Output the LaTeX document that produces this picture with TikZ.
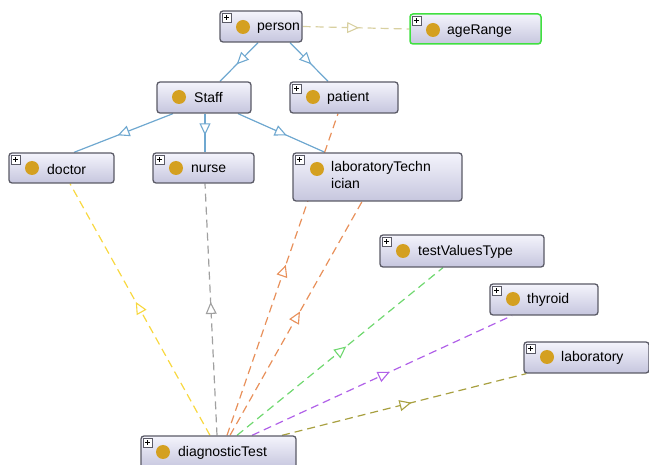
\documentclass[tikz,border=0pt]{standalone}
\usepackage{fontspec}
\setmainfont{Liberation Sans}
\usetikzlibrary{arrows.meta,decorations.markings,calc}
\pgfdeclarelayer{bg}
\pgfsetlayers{bg,main}
\definecolor{boxtop}{HTML}{F4F4FC}
\definecolor{boxbot}{HTML}{C6C6DE}
\definecolor{boxline}{HTML}{5A5A66}
\definecolor{dotc}{HTML}{D4A020}
\definecolor{isa}{HTML}{6FA8D0}
\definecolor{ctan}{HTML}{D8D0A0}
\definecolor{cyel}{HTML}{F8D840}
\definecolor{cgray}{HTML}{A0A0A0}
\definecolor{corg}{HTML}{E8905A}
\definecolor{cgrn}{HTML}{70D870}
\definecolor{cpur}{HTML}{B060E8}
\definecolor{coliv}{HTML}{A8A040}
\definecolor{gborder}{HTML}{40E040}
\newcommand\plusicon[1]{%
  \draw[boxline, fill=white, line width=0.6pt] ($(#1.north west)+(3,3)$) rectangle ++(9,9);
  \draw[black, line width=0.9pt] ($(#1.north west)+(5,7.5)$) -- ++(5,0);
  \draw[black, line width=0.9pt] ($(#1.north west)+(7.5,5)$) -- ++(0,5);}
\begin{document}
\begin{tikzpicture}[x=1pt,y=-1pt,
  box/.style={draw=boxline, line width=1.3pt, rounded corners=3pt, top color=boxtop, bottom color=boxbot, inner sep=0pt},
  lbl/.style={anchor=west, inner sep=0pt, font=\fontsize{14}{17}\selectfont, align=left},
  dotmark/.style={fill=dotc},
  isaedge/.style={draw=isa, line width=1.2pt, postaction={decorate}, decoration={markings, mark=at position 0.56 with {\arrow[isa, line width=1.1pt]{Triangle[length=12pt, width=11pt, fill=white]}}}},
  dep/.style={draw=#1, line width=1.2pt, dash pattern=on 8pt off 5pt, postaction={decorate}, decoration={markings, mark=at position 0.53 with {\arrow[#1, line width=1.1pt, solid]{Triangle[length=12pt, width=11pt, fill=white]}}}}
]
\useasboundingbox (0,0) rectangle (649,465);

% nodes
\node[box, minimum width=82pt, minimum height=31pt] (person) at (261,26.5) {};
\node[box, draw=gborder, line width=1.5pt, minimum width=131pt, minimum height=30pt] (ageRange) at (475.5,29) {};
\node[box, minimum width=94pt, minimum height=31pt] (Staff) at (204,97.5) {};
\node[box, minimum width=108pt, minimum height=31pt] (patient) at (344,97.5) {};
\node[box, minimum width=105pt, minimum height=30pt] (doctor) at (61.5,168) {};
\node[box, minimum width=101pt, minimum height=30pt] (nurse) at (203.5,168) {};
\node[box, minimum width=169pt, minimum height=48pt] (labTech) at (377.5,177) {};
\node[box, minimum width=164pt, minimum height=32pt] (tvt) at (462,251) {};
\node[box, minimum width=108pt, minimum height=31pt] (thyroid) at (544,299.5) {};
\node[box, minimum width=125pt, minimum height=31pt] (laboratory) at (586.5,357.5) {};
\node[box, minimum width=155pt, minimum height=32pt] (diag) at (218.5,452) {};

% icons, dots, labels
\plusicon{person}
\fill[dotmark] (243,27) circle (7pt);
\node[lbl] (tperson) at (257,28) {person};

\plusicon{ageRange}
\fill[dotmark] (433,30) circle (7pt);
\node[lbl] (tage) at (447,31) {ageRange};

\fill[dotmark] (179,97) circle (7pt);
\node[lbl] (tstaff) at (194,98) {Staff};

\plusicon{patient}
\fill[dotmark] (313,97) circle (7pt);
\node[lbl] (tpatient) at (327,98) {patient};

\plusicon{doctor}
\fill[dotmark] (32,168) circle (7pt);
\node[lbl] (tdoctor) at (47,169) {doctor};

\plusicon{nurse}
\fill[dotmark] (176,168) circle (7pt);
\node[lbl] (tnurse) at (191,169) {nurse};

\plusicon{labTech}
\fill[dotmark] (317,169) circle (7pt);
\node[lbl, anchor=north west] (tlab) at (331,161) {laboratoryTechn\\ician};

\plusicon{tvt}
\fill[dotmark] (403,251) circle (7pt);
\node[lbl] (ttvt) at (418,252) {testValuesType};

\plusicon{thyroid}
\fill[dotmark] (513,299) circle (7pt);
\node[lbl] (tthy) at (527,300) {thyroid};

\plusicon{laboratory}
\fill[dotmark] (547,357) circle (7pt);
\node[lbl] (tlabo) at (561,358) {laboratory};

\plusicon{diag}
\fill[dotmark] (163,452) circle (7pt);
\node[lbl] (tdiag) at (178,453) {diagnosticTest};

% edges
\begin{pgfonlayer}{bg}
\draw[isaedge] ([xshift=-3pt]person.south) -- ([xshift=16pt]Staff.north);
\draw[isaedge] ([xshift=29pt]person.south) -- ([xshift=-16pt]patient.north);
\draw[isaedge] ([xshift=-31pt]Staff.south) -- ([xshift=12.5pt]doctor.north);
\draw[isaedge] ([xshift=1pt]Staff.south) -- ([xshift=1.5pt]nurse.north);
\draw[isaedge] ([xshift=34pt]Staff.south) -- ([xshift=-52.5pt]labTech.north);
\draw[dep=ctan] (person.east) -- (ageRange.west);
\draw[dep=cyel] ([xshift=-8.5pt]diag.north) -- ([xshift=8.5pt]doctor.south);
\draw[dep=cgray] ([xshift=-1.5pt]diag.north) -- ([xshift=1.5pt]nurse.south);
\draw[dep=corg] ([xshift=8.5pt]diag.north) -- ([xshift=-6pt]patient.south);
\draw[dep=corg] ([xshift=11.5pt]diag.north) -- ([xshift=-15.5pt]labTech.south);
\draw[dep=cgrn] ([xshift=18.5pt]diag.north) -- ([xshift=-19pt]tvt.south);
\draw[dep=cpur] ([xshift=33.5pt]diag.north) -- ([xshift=-32pt]thyroid.south);
\draw[dep=coliv] ([xshift=63.5pt]diag.north) -- ([xshift=3pt]laboratory.south west);
\end{pgfonlayer}
\end{tikzpicture}
\end{document}
